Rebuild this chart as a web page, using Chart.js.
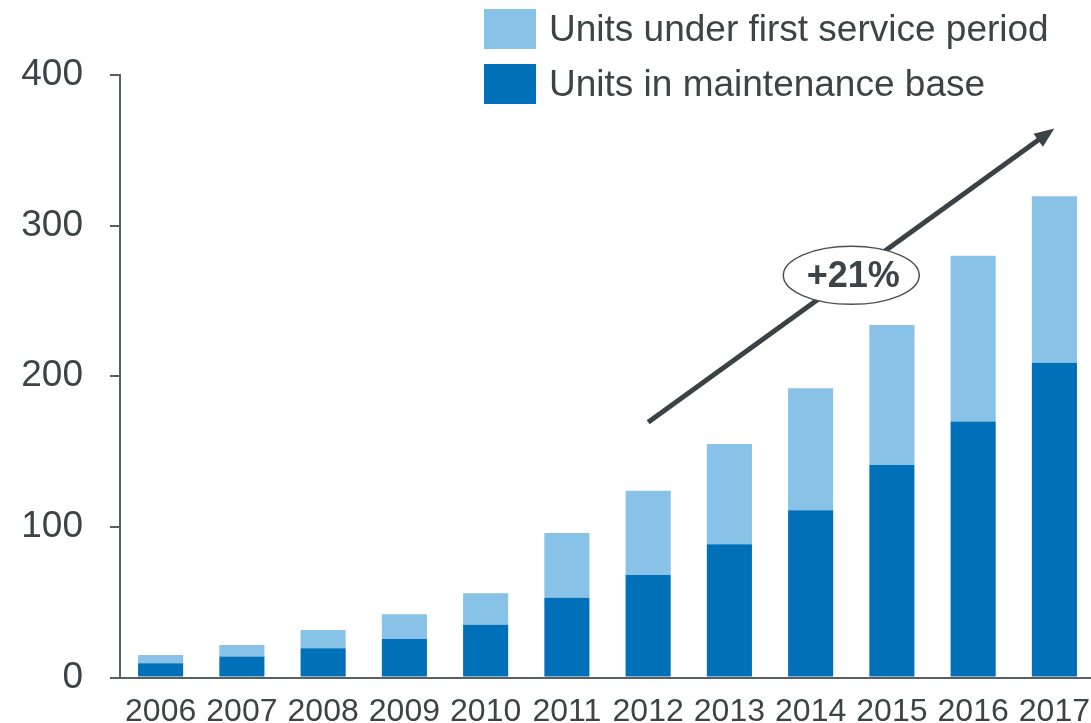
<!DOCTYPE html>
<html>
<head>
<meta charset="utf-8">
<script src="https://cdn.jsdelivr.net/npm/chart.js@4.4.1/dist/chart.umd.min.js"></script>
<style>
  html, body { margin: 0; padding: 0; background: #ffffff; overflow: hidden; }
  #wrap { width: 1105px; height: 723px; }
</style>
</head>
<body>
<div id="wrap"><canvas id="c" width="1105" height="723"></canvas></div>
<script>
// ---- data ----
const years = ['2006','2007','2008','2009','2010','2011','2012','2013','2014','2015','2016','2017'];
const maintenanceBase = [9.5, 14, 19.5, 25.5, 35, 53, 68, 88.5, 111, 141, 170, 209];
const firstService = [5.5, 7.5, 12, 16.5, 21, 43, 56, 66.5, 81, 93, 110, 110.5];
const seriesLabels = ['Units in maintenance base', 'Units under first service period'];
const yTicks = [0, 100, 200, 300, 400];
const growthLabel = '+21%';
// arrow annotation in data coordinates (category index, value)
const arrowFrom = [6.0, 169.5];
const arrowTo = [11.0, 364.5];
const badgeAt = [8.5, 267];

const TEXT = '#3d4447';
const AXIS = '#5a5f62';
const DARK = '#0070b8';
const LIGHT = '#88c2e6';
const FONT = '"Liberation Sans", Arial, sans-serif';

const annotationPlugin = {
  id: 'annot',
  afterDatasetsDraw(chart) {
    const ctx = chart.ctx;
    const xs = chart.scales.x, ys = chart.scales.y;
    const x1 = xs.getPixelForValue(arrowFrom[0]), y1 = ys.getPixelForValue(arrowFrom[1]);
    const x2 = xs.getPixelForValue(arrowTo[0]), y2 = ys.getPixelForValue(arrowTo[1]);
    const ang = Math.atan2(y2 - y1, x2 - x1);
    const headLen = 20, headW = 8;
    ctx.save();
    ctx.strokeStyle = '#3b4245';
    ctx.fillStyle = '#3b4245';
    ctx.lineWidth = 5;
    ctx.beginPath();
    ctx.moveTo(x1, y1);
    ctx.lineTo(x2 - Math.cos(ang) * (headLen - 4), y2 - Math.sin(ang) * (headLen - 4));
    ctx.stroke();
    ctx.beginPath();
    ctx.moveTo(x2, y2);
    ctx.lineTo(x2 - Math.cos(ang) * headLen + Math.sin(ang) * headW, y2 - Math.sin(ang) * headLen - Math.cos(ang) * headW);
    ctx.lineTo(x2 - Math.cos(ang) * headLen - Math.sin(ang) * headW, y2 - Math.sin(ang) * headLen + Math.cos(ang) * headW);
    ctx.closePath();
    ctx.fill();
    // badge
    const bx = xs.getPixelForValue(badgeAt[0]), by = ys.getPixelForValue(badgeAt[1]);
    ctx.beginPath();
    ctx.ellipse(bx, by, 68, 29, 0, 0, Math.PI * 2);
    ctx.fillStyle = '#ffffff';
    ctx.fill();
    ctx.lineWidth = 1.5;
    ctx.strokeStyle = '#4a5053';
    ctx.stroke();
    ctx.fillStyle = TEXT;
    ctx.font = 'bold 36px ' + FONT;
    ctx.textAlign = 'center';
    ctx.textBaseline = 'middle';
    ctx.fillText(growthLabel, bx + 2, by + 2);
    ctx.restore();
  },
  afterDraw(chart) {
    // legend (top-right), light series first
    const ctx = chart.ctx;
    const ds = chart.data.datasets;
    const order = [1, 0];
    ctx.save();
    ctx.font = '37px ' + FONT;
    ctx.textBaseline = 'middle';
    ctx.textAlign = 'left';
    order.forEach((di, row) => {
      const top = 9 + row * 55;
      ctx.fillStyle = ds[di].backgroundColor;
      ctx.fillRect(484, top, 52, 40);
      ctx.fillStyle = TEXT;
      ctx.fillText(ds[di].label, 549, top + 22);
    });
    ctx.restore();
  }
};

new Chart(document.getElementById('c'), {
  type: 'bar',
  data: {
    labels: years,
    datasets: [
      { label: seriesLabels[0], data: maintenanceBase, backgroundColor: DARK, borderWidth: 0 },
      { label: seriesLabels[1], data: firstService, backgroundColor: LIGHT, borderWidth: 0 }
    ]
  },
  options: {
    responsive: false,
    animation: false,
    events: [],
    layout: { padding: { top: 75, right: 0, bottom: 0, left: 0 } },
    datasets: { bar: { barPercentage: 0.555, categoryPercentage: 1.0 } },
    plugins: { legend: { display: false }, tooltip: { enabled: false }, title: { display: false } },
    scales: {
      x: {
        stacked: true,
        offset: true,
        grid: { display: true, drawOnChartArea: false, drawTicks: false },
        border: { display: true, color: AXIS, width: 2 },
        ticks: { color: TEXT, font: { family: FONT, size: 32 }, padding: 15, maxRotation: 0, autoSkip: false },
        afterFit(s) { s.height = 45; }
      },
      y: {
        stacked: true,
        min: 0, max: 400,
        afterBuildTicks(s) { s.ticks = yTicks.map(v => ({ value: v })); },
        grid: { display: true, drawOnChartArea: false, drawTicks: true, tickLength: 10, color: AXIS, lineWidth: 2 },
        border: { display: true, color: AXIS, width: 2 },
        ticks: { color: TEXT, font: { family: FONT, size: 37, lineHeight: 1.0 }, padding: 27 },
        afterFit(s) { s.width = 120; }
      }
    }
  },
  plugins: [annotationPlugin]
});
</script>
</body>
</html>
